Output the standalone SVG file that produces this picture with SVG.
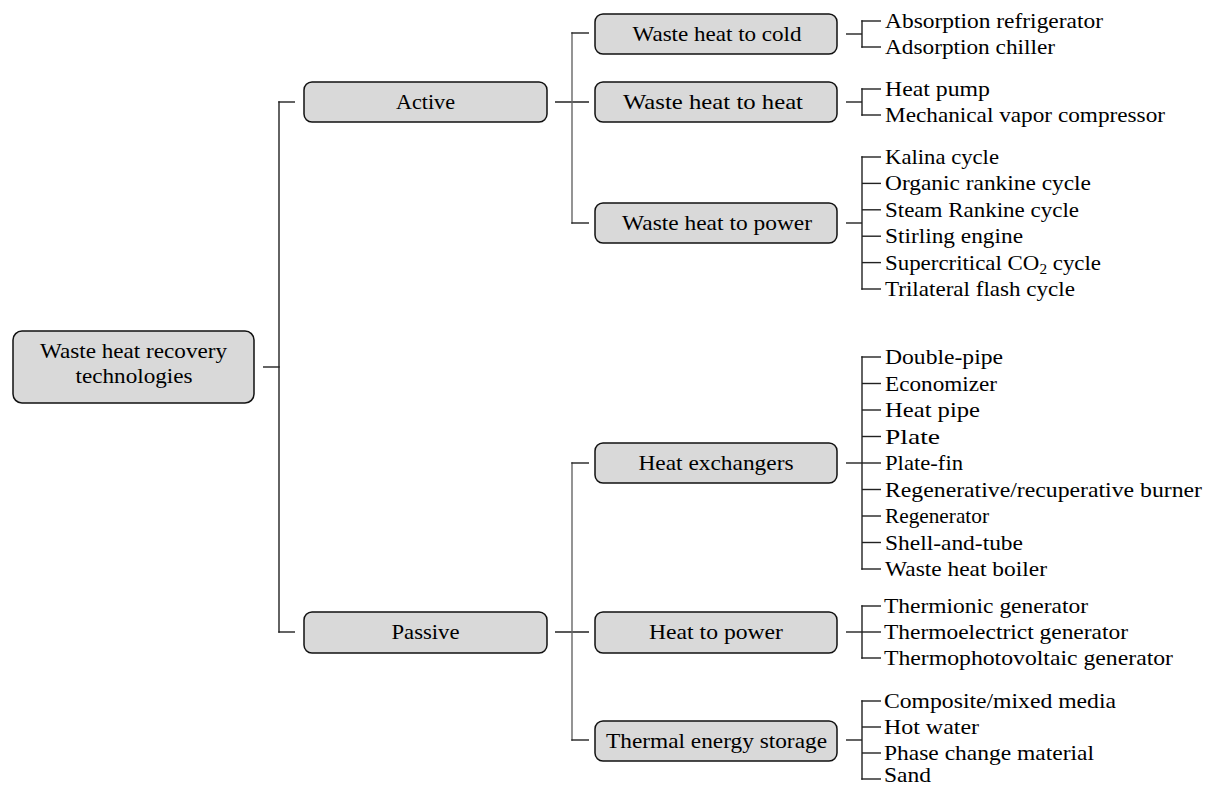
<svg xmlns="http://www.w3.org/2000/svg" width="1213" height="787" viewBox="0 0 1213 787">
<style>
text{font-family:'Liberation Serif','Times New Roman',Times,serif;font-size:21px;fill:#000}
.box{fill:#d9d9d9;stroke:#111;stroke-width:1.5}
.c{text-anchor:middle}
#connectors line{stroke:#222;stroke-width:1.4}
#connectors line.g{stroke:#666}
</style>
<rect width="1213" height="787" fill="#fff"/>
<g id="connectors">
<line x1="263" y1="367" x2="279.7" y2="367"/>
<line x1="279" y1="101.3" x2="279" y2="632.7"/>
<line x1="278.3" y1="102" x2="295" y2="102"/>
<line x1="278.3" y1="632" x2="295" y2="632"/>
<line x1="555" y1="102" x2="589" y2="102"/>
<line class="g" x1="572" y1="32.3" x2="572" y2="223.7"/>
<line x1="571.3" y1="33" x2="589" y2="33"/>
<line x1="571.3" y1="223" x2="589" y2="223"/>
<line x1="555" y1="632" x2="589" y2="632"/>
<line class="g" x1="572" y1="462.3" x2="572" y2="740.7"/>
<line x1="571.3" y1="463" x2="589" y2="463"/>
<line x1="571.3" y1="740" x2="589" y2="740"/>
<line x1="846" y1="34" x2="862" y2="34"/>
<line x1="862" y1="20.3" x2="862" y2="47.7"/>
<line x1="861.3" y1="21" x2="881" y2="21"/>
<line x1="861.3" y1="47" x2="881" y2="47"/>
<line x1="846" y1="102" x2="862" y2="102"/>
<line x1="862" y1="88.3" x2="862" y2="115.7"/>
<line x1="861.3" y1="89" x2="881" y2="89"/>
<line x1="861.3" y1="115" x2="881" y2="115"/>
<line x1="846" y1="223" x2="862" y2="223"/>
<line x1="862" y1="156.3" x2="862" y2="289.7"/>
<line x1="861.3" y1="157" x2="881" y2="157"/>
<line x1="862" y1="183.4" x2="881" y2="183.4"/>
<line x1="862" y1="209.8" x2="881" y2="209.8"/>
<line x1="862" y1="236.2" x2="881" y2="236.2"/>
<line x1="862" y1="262.6" x2="881" y2="262.6"/>
<line x1="861.3" y1="289" x2="881" y2="289"/>
<line x1="846" y1="463" x2="862" y2="463"/>
<line x1="862" y1="356.3" x2="862" y2="569.7"/>
<line x1="861.3" y1="357" x2="881" y2="357"/>
<line x1="862" y1="383.5" x2="881" y2="383.5"/>
<line x1="862" y1="410" x2="881" y2="410"/>
<line x1="862" y1="436.5" x2="881" y2="436.5"/>
<line x1="862" y1="463" x2="881" y2="463"/>
<line x1="862" y1="489.5" x2="881" y2="489.5"/>
<line x1="862" y1="516" x2="881" y2="516"/>
<line x1="862" y1="542.5" x2="881" y2="542.5"/>
<line x1="861.3" y1="569" x2="881" y2="569"/>
<line x1="846" y1="632" x2="862" y2="632"/>
<line x1="862" y1="605.3" x2="862" y2="658.7"/>
<line x1="861.3" y1="606" x2="881" y2="606"/>
<line x1="862" y1="632" x2="881" y2="632"/>
<line x1="861.3" y1="658" x2="881" y2="658"/>
<line x1="846" y1="740" x2="862" y2="740"/>
<line x1="862" y1="700.3" x2="862" y2="779.7"/>
<line x1="861.3" y1="701" x2="881" y2="701"/>
<line x1="862" y1="727" x2="881" y2="727"/>
<line x1="862" y1="753" x2="881" y2="753"/>
<line x1="861.3" y1="779" x2="881" y2="779"/>
</g>
<g id="root">
<rect class="box" x="13" y="331" width="241" height="72" rx="9"/>
<text class="c" x="133.5" y="358" textLength="187" lengthAdjust="spacingAndGlyphs">Waste heat recovery</text>
<text class="c" x="134" y="383" textLength="117" lengthAdjust="spacingAndGlyphs">technologies</text>
</g>
<g id="active">
<rect class="box" x="304" y="82" width="243" height="40" rx="8"/>
<text class="c" x="425.5" y="109" textLength="59" lengthAdjust="spacingAndGlyphs">Active</text>
</g>
<g id="passive">
<rect class="box" x="304" y="612" width="243" height="41" rx="8"/>
<text class="c" x="425.5" y="639" textLength="68" lengthAdjust="spacingAndGlyphs">Passive</text>
</g>
<g id="wh-cold">
<rect class="box" x="595" y="14" width="242" height="40" rx="8"/>
<text class="c" x="717" y="41" textLength="169" lengthAdjust="spacingAndGlyphs">Waste heat to cold</text>
</g>
<g id="wh-heat">
<rect class="box" x="595" y="82" width="242" height="40" rx="8"/>
<text class="c" x="713" y="109" textLength="180" lengthAdjust="spacingAndGlyphs">Waste heat to heat</text>
</g>
<g id="wh-power">
<rect class="box" x="595" y="203" width="242" height="40" rx="8"/>
<text class="c" x="717" y="230" textLength="190" lengthAdjust="spacingAndGlyphs">Waste heat to power</text>
</g>
<g id="heat-exchangers">
<rect class="box" x="595" y="443" width="242" height="40" rx="8"/>
<text class="c" x="716" y="470" textLength="155" lengthAdjust="spacingAndGlyphs">Heat exchangers</text>
</g>
<g id="heat-to-power">
<rect class="box" x="595" y="612" width="242" height="41" rx="8"/>
<text class="c" x="716" y="639" textLength="134" lengthAdjust="spacingAndGlyphs">Heat to power</text>
</g>
<g id="thermal-storage">
<rect class="box" x="595" y="721" width="242" height="40" rx="8"/>
<text class="c" x="716.5" y="748" textLength="221" lengthAdjust="spacingAndGlyphs">Thermal energy storage</text>
</g>
<g id="leaves-cold">
<text x="885" y="28" textLength="218" lengthAdjust="spacingAndGlyphs">Absorption refrigerator</text>
<text x="885" y="54" textLength="170" lengthAdjust="spacingAndGlyphs">Adsorption chiller</text>
</g>
<g id="leaves-heat">
<text x="885" y="96" textLength="105" lengthAdjust="spacingAndGlyphs">Heat pump</text>
<text x="885" y="122" textLength="280" lengthAdjust="spacingAndGlyphs">Mechanical vapor compressor</text>
</g>
<g id="leaves-power">
<text x="885" y="164" textLength="114" lengthAdjust="spacingAndGlyphs">Kalina cycle</text>
<text x="885" y="190.4" textLength="206" lengthAdjust="spacingAndGlyphs">Organic rankine cycle</text>
<text x="885" y="216.8" textLength="194" lengthAdjust="spacingAndGlyphs">Steam Rankine cycle</text>
<text x="885" y="243.2" textLength="138" lengthAdjust="spacingAndGlyphs">Stirling engine</text>
<text x="885" y="269.6" textLength="216" lengthAdjust="spacingAndGlyphs">Supercritical CO<tspan font-size="14" dy="4">2</tspan><tspan dy="-4"> cycle</tspan></text>
<text x="885" y="296" textLength="190" lengthAdjust="spacingAndGlyphs">Trilateral flash cycle</text>
</g>
<g id="leaves-exchangers">
<text x="885" y="364" textLength="118" lengthAdjust="spacingAndGlyphs">Double-pipe</text>
<text x="885" y="390.5" textLength="112" lengthAdjust="spacingAndGlyphs">Economizer</text>
<text x="885" y="417" textLength="95" lengthAdjust="spacingAndGlyphs">Heat pipe</text>
<text x="885" y="443.5" textLength="55" lengthAdjust="spacingAndGlyphs">Plate</text>
<text x="885" y="470" textLength="78" lengthAdjust="spacingAndGlyphs">Plate-fin</text>
<text x="885" y="496.5" textLength="317" lengthAdjust="spacingAndGlyphs">Regenerative/recuperative burner</text>
<text x="885" y="523" textLength="104" lengthAdjust="spacingAndGlyphs">Regenerator</text>
<text x="885" y="549.5" textLength="138" lengthAdjust="spacingAndGlyphs">Shell-and-tube</text>
<text x="885" y="576" textLength="162" lengthAdjust="spacingAndGlyphs">Waste heat boiler</text>
</g>
<g id="leaves-h2p">
<text x="884" y="613" textLength="204" lengthAdjust="spacingAndGlyphs">Thermionic generator</text>
<text x="884" y="639" textLength="244" lengthAdjust="spacingAndGlyphs">Thermoelectrict generator</text>
<text x="884" y="665" textLength="289" lengthAdjust="spacingAndGlyphs">Thermophotovoltaic generator</text>
</g>
<g id="leaves-storage">
<text x="884" y="708" textLength="232" lengthAdjust="spacingAndGlyphs">Composite/mixed media</text>
<text x="884" y="734" textLength="95" lengthAdjust="spacingAndGlyphs">Hot water</text>
<text x="884" y="760" textLength="210" lengthAdjust="spacingAndGlyphs">Phase change material</text>
<text x="884" y="782" textLength="47" lengthAdjust="spacingAndGlyphs">Sand</text>
</g>
</svg>
